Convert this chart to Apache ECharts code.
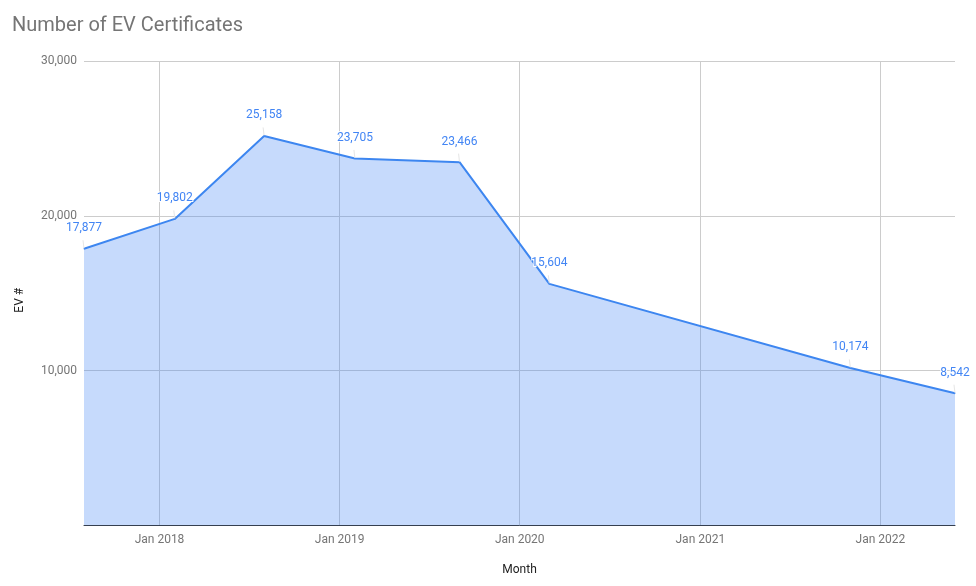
<!DOCTYPE html>
<html>
<head>
<meta charset="utf-8">
<script src="https://cdn.jsdelivr.net/npm/echarts@6/dist/echarts.min.js"></script>
<style>
html,body{margin:0;padding:0;background:#fff;}
#chart{width:976px;height:586px;}
</style>
</head>
<body>
<div id="chart"></div>
<script>
const months = ['2017-08-01','2018-02-01','2018-08-01','2019-02-01','2019-09-01','2020-03-01','2021-11-01','2022-06-01'];
const evCounts = [17877, 19802, 25158, 23705, 23466, 15604, 10174, 8542];
const tickDates = ['2018-01-01','2019-01-01','2020-01-01','2021-01-01','2022-01-01'];
const tickLabels = ['Jan 2018','Jan 2019','Jan 2020','Jan 2021','Jan 2022'];
const xMin = '2017-08-01';
const xMax = '2022-06-01';

function ts(s) { const p = s.split('-').map(Number); return Date.UTC(p[0], p[1] - 1, p[2]); }
const seriesData = months.map((m, i) => [ts(m), evCounts[i]]);
const tickValues = tickDates.map(ts);
const FONT = 'Roboto, "Noto Sans", sans-serif';

function fmt(n) { return n.toLocaleString('en-US'); }

const chart = echarts.init(document.getElementById('chart'), null, {renderer: 'canvas'});
chart.setOption({
  animation: false,
  backgroundColor: '#fff',
  textStyle: {fontFamily: FONT},
  title: {
    text: 'Number of EV Certificates',
    left: 7, top: 11,
    textStyle: {fontFamily: FONT, fontSize: 20, fontWeight: 'normal', color: '#757575'}
  },
  grid: {left: 84, right: 21, top: 61, bottom: 60.5, containLabel: false},
  xAxis: {
    type: 'value',
    min: ts(xMin), max: ts(xMax),
    name: 'Month', nameLocation: 'middle', nameGap: 38,
    nameTextStyle: {fontFamily: FONT, fontSize: 12, color: '#222'},
    axisLine: {show: true, lineStyle: {color: '#333', width: 1}},
    axisTick: {show: false, customValues: tickValues},
    axisLabel: {
      customValues: tickValues,
      margin: 8,
      fontFamily: FONT, fontSize: 12, color: '#757575',
      formatter: function (v) {
        const i = tickValues.indexOf(v);
        return i >= 0 ? tickLabels[i] : '';
      }
    },
    splitLine: {show: true, lineStyle: {color: '#cccccc', width: 1}}
  },
  yAxis: {
    type: 'value',
    min: 0, max: 30000, interval: 10000,
    name: 'EV #', nameLocation: 'middle', nameGap: 58, nameRotate: 90,
    nameTextStyle: {fontFamily: FONT, fontSize: 12, color: '#222', padding: [0, 14, 0, 0]},
    axisLine: {show: false},
    axisTick: {show: false},
    axisLabel: {
      showMinLabel: false,
      margin: 7,
      fontFamily: FONT, fontSize: 12, color: '#757575',
      formatter: function (v) { return v === 0 ? '' : fmt(v); }
    },
    splitLine: {show: true, lineStyle: {color: '#cccccc', width: 1}}
  },
  series: [{
    type: 'line',
    data: seriesData,
    symbol: 'circle',
    symbolSize: 1,
    showSymbol: true,
    lineStyle: {color: '#3d86f0', width: 2},
    itemStyle: {color: '#3d86f0'},
    areaStyle: {color: '#4285f4', opacity: 0.3},
    label: {
      show: true,
      position: 'top',
      distance: 14,
      fontFamily: FONT, fontSize: 12, color: '#4285f4',
      textBorderColor: '#fff', textBorderWidth: 2,
      formatter: function (p) { return fmt(p.value[1]); }
    },
    labelLine: {show: true, lineStyle: {color: '#e6e6e6', width: 1}}
  }]
});
</script>
</body>
</html>
